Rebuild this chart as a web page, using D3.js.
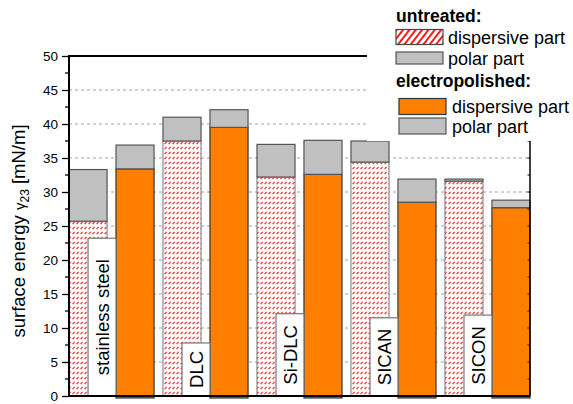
<!DOCTYPE html>
<html><head><meta charset="utf-8">
<script src="https://cdn.jsdelivr.net/npm/d3@7"></script>
<style>
html,body{margin:0;padding:0;background:#fff;}
text{font-family:"Liberation Sans",Arial,sans-serif;}
</style></head>
<body>
<svg id="chart" width="573" height="404"></svg>
<script>
// ---- data ----
const categories = ["stainless steel", "DLC", "Si-DLC", "SICAN", "SICON"];
const untreatedDispersive = [25.7, 37.5, 32.2, 34.4, 31.6];
const untreatedPolar      = [7.6, 3.5, 4.8, 3.1, 0.3];
const electroDispersive   = [33.4, 39.5, 32.6, 28.5, 27.7];
const electroPolar        = [3.5, 2.6, 5.0, 3.4, 1.1];
const labelBoxTop         = [23.2, 7.8, 12.1, 11.5, 11.9]; // in axis units
const yTicks = [0, 5, 10, 15, 20, 25, 30, 35, 40, 45, 50];

// ---- layout ----
const svg = d3.select("#chart");
const pLeft = 69, pRight = 530, pTop = 56, pBottom = 396;
const y = d3.scaleLinear().domain([0, 50]).range([pBottom, pTop]);
const barKeys = [];
categories.forEach(c => { barKeys.push(c + "|u"); barKeys.push(c + "|e"); });
const x = d3.scaleBand().domain(barKeys).range([pLeft, pRight]).paddingInner(0.19).paddingOuter(0);
const bw = x.bandwidth();

const defs = svg.append("defs");
const pat = defs.append("pattern").attr("id", "hatch").attr("patternUnits", "userSpaceOnUse")
  .attr("width", 4).attr("height", 5);
pat.append("rect").attr("width", 4).attr("height", 5).attr("fill", "#fff");
pat.append("line").attr("x1", 0.6).attr("y1", 4.2).attr("x2", 2.6).attr("y2", 1.8)
  .attr("stroke", "#ff2a2a").attr("stroke-width", 1.2);
const pat2 = defs.append("pattern").attr("id", "hatchL").attr("patternUnits", "userSpaceOnUse")
  .attr("width", 5).attr("height", 6).attr("patternTransform", "rotate(38)");
pat2.append("rect").attr("width", 5).attr("height", 6).attr("fill", "#fff");
pat2.append("line").attr("x1", 1).attr("y1", 0).attr("x2", 1).attr("y2", 6)
  .attr("stroke", "#ff1a1a").attr("stroke-width", 2);

// gridlines
svg.append("g").selectAll("line").data(yTicks.filter(t => t > 0 && t < 50)).join("line")
  .attr("x1", pLeft).attr("x2", pRight).attr("y1", d => y(d)).attr("y2", d => y(d))
  .attr("stroke", "#888").attr("stroke-width", 0.8).attr("stroke-dasharray", "3,3");

// bars
const bars = svg.append("g");
categories.forEach((c, i) => {
  const xu = x(c + "|u"), xe = x(c + "|e");
  bars.append("rect").attr("x", xu).attr("width", bw)
    .attr("y", y(untreatedDispersive[i])).attr("height", y(0) - y(untreatedDispersive[i]))
    .attr("fill", "url(#hatch)").attr("stroke", "#777").attr("stroke-width", 1);
  bars.append("rect").attr("x", xu).attr("width", bw)
    .attr("y", y(untreatedDispersive[i] + untreatedPolar[i]))
    .attr("height", y(untreatedDispersive[i]) - y(untreatedDispersive[i] + untreatedPolar[i]))
    .attr("fill", "#c0c0c0").attr("stroke", "#555").attr("stroke-width", 1.2);
  bars.append("rect").attr("x", xe).attr("width", bw)
    .attr("y", y(electroDispersive[i])).attr("height", y(0) - y(electroDispersive[i]) + 2)
    .attr("fill", "#ff8000").attr("stroke", "#333").attr("stroke-width", 1.2);
  bars.append("rect").attr("x", xe).attr("width", bw)
    .attr("y", y(electroDispersive[i] + electroPolar[i]))
    .attr("height", y(electroDispersive[i]) - y(electroDispersive[i] + electroPolar[i]))
    .attr("fill", "#c0c0c0").attr("stroke", "#555").attr("stroke-width", 1.2);
});

// category label boxes
const lab = svg.append("g");
categories.forEach((c, i) => {
  const bx = x(c + "|u") + bw / 2;
  const bwid = x(c + "|e") - bx;
  const by = y(labelBoxTop[i]);
  lab.append("rect").attr("x", bx).attr("y", by).attr("width", bwid).attr("height", pBottom - by)
    .attr("fill", "#fff").attr("stroke", "#777").attr("stroke-width", 1.2);
  const cx = bx + bwid / 2, cy = (by + pBottom) / 2;
  lab.append("text").attr("transform", `translate(${cx},${cy}) rotate(-90)`)
    .attr("text-anchor", "middle").attr("dy", "0.36em")
    .attr("font-size", 18.5).attr("fill", "#000").text(c);
});

// left axis
const yAxis = d3.axisLeft(y).tickValues(yTicks).tickSize(7).tickPadding(4).tickFormat(d3.format("d"));
const gy = svg.append("g").attr("transform", `translate(${pLeft},0)`).call(yAxis);
gy.select(".domain").remove();
gy.selectAll(".tick line").attr("stroke", "#000").attr("stroke-width", 1.3);
gy.selectAll(".tick text").attr("font-size", 13.5).attr("fill", "#000")
  .style("font-family", "'Liberation Sans', Arial, sans-serif");
const minor = d3.range(2.5, 50, 5);
svg.append("g").selectAll("line").data(minor).join("line")
  .attr("x1", pLeft - 4).attr("x2", pLeft).attr("y1", d => y(d)).attr("y2", d => y(d))
  .attr("stroke", "#000").attr("stroke-width", 1.3);
svg.append("line").attr("x1", pLeft).attr("x2", pLeft).attr("y1", pTop - 1).attr("y2", pBottom + 1)
  .attr("stroke", "#000").attr("stroke-width", 2);
svg.append("line").attr("x1", pLeft).attr("x2", pRight).attr("y1", pBottom).attr("y2", pBottom)
  .attr("stroke", "#000").attr("stroke-width", 2);
svg.append("line").attr("x1", pLeft).attr("x2", pRight).attr("y1", pTop).attr("y2", pTop)
  .attr("stroke", "#000").attr("stroke-width", 2);
svg.append("line").attr("x1", pRight).attr("x2", pRight).attr("y1", pTop).attr("y2", pBottom)
  .attr("stroke", "#000").attr("stroke-width", 1.5);
svg.append("g").selectAll("line").data(d3.range(2.5, 50, 2.5)).join("line")
  .attr("x1", pRight - 2.5).attr("x2", pRight).attr("y1", d => y(d)).attr("y2", d => y(d))
  .attr("stroke", "#000").attr("stroke-width", 1);

// y label
const yl = svg.append("text").attr("transform", `translate(25,${(pTop + pBottom) / 2 + 5}) rotate(-90)`)
  .attr("text-anchor", "middle").attr("font-size", 18.5).attr("fill", "#000");
yl.append("tspan").text("surface energy ");
yl.append("tspan").attr("font-size", 15).text("γ");
yl.append("tspan").attr("font-size", 12).attr("dy", 4).text("23");
yl.append("tspan").attr("dy", -4).text(" [mN/m]");

// legend
const lg = svg.append("g");
lg.append("rect").attr("x", 367).attr("y", 0).attr("width", 206).attr("height", 141).attr("fill", "#fff");
const legendItems = [
  {type: "head", text: "untreated:", x: 396, y: 22},
  {type: "item", fill: "url(#hatchL)", stroke: "#444", text: "dispersive part", sx: 396, sy: 29.5, sw: 47, sh: 15, tx: 448, ty: 44},
  {type: "item", fill: "#c0c0c0", stroke: "#555", text: "polar part", sx: 396, sy: 52, sw: 47, sh: 12, tx: 448, ty: 65},
  {type: "head", text: "electropolished:", x: 396, y: 87},
  {type: "item", fill: "#ff8000", stroke: "#333", text: "dispersive part", sx: 399, sy: 98.5, sw: 47, sh: 16, tx: 452, ty: 112.5},
  {type: "item", fill: "#c0c0c0", stroke: "#555", text: "polar part", sx: 399, sy: 118, sw: 47, sh: 16, tx: 452, ty: 133}
];
legendItems.forEach(d => {
  if (d.type === "head") {
    lg.append("text").attr("x", d.x).attr("y", d.y).attr("font-size", 17.5).attr("font-weight", "bold").text(d.text);
  } else {
    lg.append("rect").attr("x", d.sx).attr("y", d.sy).attr("width", d.sw).attr("height", d.sh)
      .attr("fill", d.fill).attr("stroke", d.stroke).attr("stroke-width", 1.2);
    lg.append("text").attr("x", d.tx).attr("y", d.ty).attr("font-size", 18).text(d.text);
  }
});
</script>
</body></html>
